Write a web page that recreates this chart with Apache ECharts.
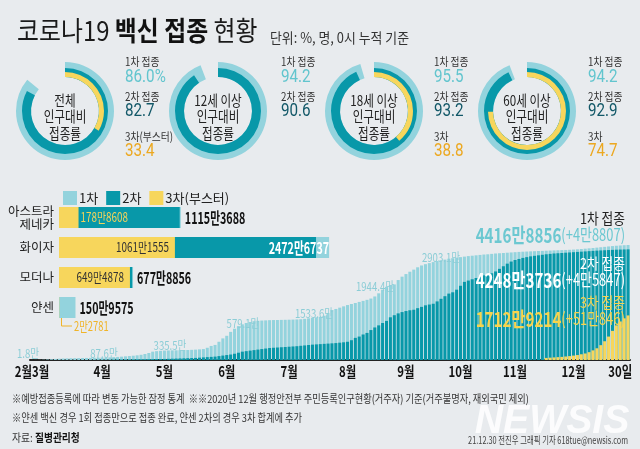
<!DOCTYPE html>
<html><head><meta charset="utf-8">
<script src="https://cdn.jsdelivr.net/npm/echarts/dist/echarts.min.js"></script>
<style>html,body{margin:0;padding:0;background:#e8ebee;}#c{width:640px;height:449px;}</style>
</head><body><div id="c"></div>
<script>
// ---------- data ----------
const donutNames = ['전체\n인구대비\n접종률', '12세 이상\n인구대비\n접종률', '18세 이상\n인구대비\n접종률', '60세 이상\n인구대비\n접종률'];
const dose1Rate = [86.0, 94.2, 95.5, 94.2];
const dose2Rate = [82.7, 90.6, 93.2, 92.9];
const dose3Rate = [33.4, null, 38.8, 74.7];
const dose1RateText = ['86.0%', '94.2', '95.5', '94.2'];
const dose2RateText = ['82.7', '90.6', '93.2', '92.9'];
const dose3RateText = ['33.4', null, '38.8', '74.7'];
const dose1Caption = ['1차 접종', '1차 접종', '1차 접종', '1차 접종'];
const dose2Caption = ['2차 접종', '2차 접종', '2차 접종', '2차 접종'];
const dose3Caption = ['3차(부스터)', null, '3차', '3차'];

const legendNames = ['1차', '2차', '3차(부스터)'];
const vaccineNames = ['아스트라\n제네카', '화이자', '모더나', '얀센'];
const vaccineDose1 = [11153688, 24726737, 6778856, 1509575];
const vaccineDose2 = [11050000, 23530000, 6700000, 0];
const vaccineDose3 = [1788608, 10611555, 6494878, 22781];

const days = ['2/27',
'3/1','3/3','3/5','3/7','3/9','3/11','3/13','3/15','3/17','3/19','3/21','3/23','3/25','3/27','3/29','3/31',
'4/2','4/4','4/6','4/8','4/10','4/12','4/14','4/16','4/18','4/20','4/22','4/24','4/26','4/28','4/30',
'5/2','5/4','5/6','5/8','5/10','5/12','5/14','5/16','5/18','5/20','5/22','5/24','5/26','5/28','5/30',
'6/1','6/3','6/5','6/7','6/9','6/11','6/13','6/15','6/17','6/19','6/21','6/23','6/25','6/27','6/29',
'7/1','7/3','7/5','7/7','7/9','7/11','7/13','7/15','7/17','7/19','7/21','7/23','7/25','7/27','7/29','7/31',
'8/2','8/4','8/6','8/8','8/10','8/12','8/14','8/16','8/18','8/20','8/22','8/24','8/26','8/28','8/30',
'9/1','9/3','9/5','9/7','9/9','9/11','9/13','9/15','9/17','9/19','9/21','9/23','9/25','9/27','9/29',
'10/1','10/3','10/5','10/7','10/9','10/11','10/13','10/15','10/17','10/19','10/21','10/23','10/25','10/27','10/29','10/31',
'11/2','11/4','11/6','11/8','11/10','11/12','11/14','11/16','11/18','11/20','11/22','11/24','11/26','11/28','11/30',
'12/2','12/4','12/6','12/8','12/10','12/12','12/14','12/16','12/18','12/20','12/22','12/24','12/26','12/28','12/30'];
// cumulative doses (만 명)
const cumDose1 = [2,
3,5,10,20,30,42,50,57,62,66,70,73,76,79,82,86,
89,93,97,102,110,118,128,140,152,165,180,200,230,270,320,
340,352,362,367,370,372,375,380,385,390,398,408,420,470,540,
579,700,830,930,1080,1200,1300,1370,1420,1460,1490,1505,1515,1522,1530,
1534,1537,1540,1543,1547,1552,1558,1565,1580,1600,1620,1640,1660,1700,1800,1920,
1960,2010,2060,2110,2150,2190,2230,2270,2310,2360,2440,2560,2700,2810,2880,
2903,3070,3200,3300,3390,3470,3560,3630,3680,3720,3760,3800,3830,3855,3890,
3910,3930,3950,3970,3990,4005,4020,4035,4050,4060,4075,4090,4100,4110,4120,4130,
4140,4150,4158,4165,4172,4178,4185,4190,4196,4202,4208,4214,4220,4226,4232,
4240,4250,4262,4275,4288,4300,4315,4330,4345,4360,4375,4388,4398,4408,4417];
const cumDose2 = [0,
0,0,0,0,0,0,0,0,0,0,0,1,2,3,4,5,
6,8,10,12,14,16,18,20,22,24,26,28,30,32,34,
36,38,40,45,50,55,60,65,70,75,80,90,100,110,120,
130,150,170,190,210,240,280,320,340,360,380,400,420,440,460,
470,480,490,500,510,520,530,545,560,575,590,600,610,620,630,640,
650,665,680,700,760,850,900,980,1040,1150,1250,1330,1420,1500,1640,
1720,1790,1840,1880,1910,1930,1990,2040,2100,2130,2160,2250,2350,2450,2550,
2600,2700,2850,3000,3050,3100,3150,3200,3250,3290,3330,3400,3500,3600,3700,3780,
3840,3880,3920,3950,3980,4000,4020,4040,4060,4075,4090,4100,4110,4120,4130,
4140,4150,4160,4170,4180,4190,4200,4208,4215,4222,4229,4235,4240,4244,4248];
const boosterDays = ['11/18','11/20','11/22','11/24','11/26','11/28','11/30',
'12/2','12/4','12/6','12/8','12/10','12/12','12/14','12/16','12/18','12/20','12/22','12/24','12/26','12/28','12/30'];
const cumDose3 = [80,90,100,110,120,135,150,
170,190,220,250,300,370,450,570,720,900,1120,1330,1480,1600,1712];

const tickIndex = [0, 18, 34, 50, 66, 81, 96, 110, 124, 139, 151];
const tickText = ['2월3월', '4월', '5월', '6월', '7월', '8월', '9월', '10월', '11월', '12월', '30일'];
const monthStartText = ['1.8만', '87.6만', '335.5만', '579.1만', '1533.6만', '1944.4만', '2903.1만'];
const totalText = ['4416만8856', '4248만3736', '1712만9214'];
const dailyText = ['(+4만8807)', '(+4만5847)', '(+51만846)'];
const totalCaption = ['1차 접종', '2차 접종', '3차 접종'];

// ---------- style / layout ----------
const C1 = '#93d3dd', C2 = '#0898a9', C3 = '#f7d65c';
const FK = "'Noto Sans CJK KR','Noto Sans',sans-serif";
const donutCX = [65, 218, 374, 527], donutCY = 111;
const capX = [125, 281, 434, 588];
const monthLabelPos = [[28, 353], [104, 353], [170, 345], [243, 323], [314, 313], [375, 286], [441, 257]];

function fmtMan(v) { return Math.floor(v / 10000) + '만' + (v % 10000); }

function T(x, y, text, o) {
  o = o || {};
  const st = {
    text: text, fill: o.color || '#222',
    font: (o.italic ? 'italic ' : '') + (o.weight || 'normal') + ' ' + (o.size || 12) + 'px ' + (o.family || FK),
    textAlign: o.align || 'left', textVerticalAlign: o.valign || 'middle'
  };
  if (o.lh) st.lineHeight = o.lh;
  if (o.rich) st.rich = o.rich;
  return { type: 'text', x: x, y: y, scaleX: o.sx == null ? 0.82 : o.sx, z: o.z || 100, silent: true, style: st };
}

const chart = echarts.init(document.getElementById('c'), null, { renderer: 'canvas' });

const series = [];
function ring(i, val, r0, r1, color) {
  return {
    type: 'pie', center: [donutCX[i], donutCY], radius: [r0, r1], startAngle: 90, clockwise: true,
    silent: true, animation: false, label: { show: false }, labelLine: { show: false },
    itemStyle: { borderWidth: 0 }, emphasis: { disabled: true },
    data: [{ value: val, itemStyle: { color: color } }, { value: 100 - val, itemStyle: { color: 'rgba(0,0,0,0)' } }]
  };
}
for (let i = 0; i < 4; i++) {
  series.push(ring(i, dose1Rate[i], 34, 49, C1));
  series.push(ring(i, dose2Rate[i], 34, 43, C2));
  if (dose3Rate[i] != null) series.push(ring(i, dose3Rate[i], 34, 39, C3));
}
const vb = { type: 'bar', xAxisIndex: 0, yAxisIndex: 0, barWidth: 21, barGap: '-100%', silent: true };
series.push(Object.assign({ name: legendNames[0], z: 5, itemStyle: { color: C1 }, data: vaccineDose1 }, vb));
series.push(Object.assign({ name: legendNames[1], z: 6, itemStyle: { color: C2 }, data: vaccineDose2 }, vb));
series.push(Object.assign({ name: legendNames[2], z: 7, itemStyle: { color: C3 }, data: vaccineDose3 }, vb));
const tsCommon = { type: 'bar', xAxisIndex: 1, yAxisIndex: 1, barCategoryGap: '22%', barGap: '-100%', silent: true, z: 2 };
series.push(Object.assign({ name: '1차 누적', itemStyle: { color: C1 }, data: cumDose1 }, tsCommon));
series.push(Object.assign({ name: '2차 누적', itemStyle: { color: C2 }, data: cumDose2 }, tsCommon));
series.push(Object.assign({ name: '3차 누적', itemStyle: { color: C3 }, data: boosterDays.map((d, i) => [d, cumDose3[i]]) }, tsCommon));

chart.setOption({
  backgroundColor: '#e8ebee',
  animation: false,
  legend: {
    left: 58, top: 186, itemWidth: 14, itemHeight: 14, itemGap: 8, icon: 'rect', selectedMode: false,
    data: legendNames, textStyle: { fontSize: 13, fontFamily: FK, color: '#222', padding: [0, 0, 0, -3] }
  },
  grid: [
    { left: 59, top: 202.5, width: 284, height: 120 },
    { left: 30, top: 240, width: 600, height: 120 }
  ],
  xAxis: [
    { type: 'value', gridIndex: 0, min: 0, max: 26000000, show: false },
    {
      type: 'category', gridIndex: 1, data: days, boundaryGap: true,
      axisLine: { lineStyle: { color: '#222', width: 2 } }, axisTick: { show: false },
      axisLabel: { show: false }
    }
  ],
  yAxis: [
    {
      type: 'category', gridIndex: 0, data: vaccineNames, inverse: true,
      axisLine: { show: false }, axisTick: { show: false },
      axisLabel: { fontSize: 12.5, lineHeight: 13, color: '#222', margin: 5, fontFamily: FK }
    },
    { type: 'value', gridIndex: 1, min: 0, max: 4608, show: false }
  ],
  series: series
});

// ---------- text & annotations ----------
const g = [];
g.push(T(17, 31, '{a|코로나19 }{b|백신 접종}{a| 현황}', {
  sx: 0.885, rich: {
    a: { fontSize: 27, fontFamily: FK, fill: '#1a1a1a' },
    b: { fontSize: 27, fontFamily: FK, fontWeight: 'bold', fill: '#111' }
  }
}));
g.push(T(270, 38, '단위: %, 명, 0시 누적 기준', { size: 14, sx: 0.92, color: '#333' }));
for (let i = 0; i < 4; i++) {
  g.push(T(donutCX[i], 116.5, donutNames[i], { size: 14.5, lh: 16.5, align: 'center', sx: 0.8, color: '#222' }));
  g.push(T(capX[i], 61.5, dose1Caption[i], { size: 11.5, sx: 0.85, color: '#333' }));
  g.push(T(capX[i], 77, dose1RateText[i], { size: 19, sx: 0.8, color: '#62c5ce', family: "Roboto,sans-serif" }));
  g.push(T(capX[i], 97, dose2Caption[i], { size: 11.5, sx: 0.85, color: '#333' }));
  g.push(T(capX[i], 111.5, dose2RateText[i], { size: 19, sx: 0.8, color: '#125868', family: "Roboto,sans-serif" }));
  if (dose3Caption[i]) {
    g.push(T(capX[i], 137, dose3Caption[i], { size: 11.5, sx: 0.85, color: '#333' }));
    g.push(T(capX[i], 151.5, dose3RateText[i], { size: 19, sx: 0.8, color: '#eca820', family: "Roboto,sans-serif" }));
  }
}
// vaccine bar labels, placed through the bar axes
const vp = (v, i) => chart.convertToPixel({ xAxisIndex: 0, yAxisIndex: 0 }, [v, vaccineNames[i]]);
const d1Lab = [
  { dx: 4, align: 'left', color: '#111' }, { dx: 0, align: 'right', color: '#fff' },
  { dx: 4, align: 'left', color: '#111' }, { dx: 4, align: 'left', color: '#111' }];
vaccineDose1.forEach((v, i) => {
  const p = vp(v, i);
  g.push(T(p[0] + d1Lab[i].dx, p[1] + 0.5, fmtMan(v), { size: 16, weight: 'bold', sx: 0.67, align: d1Lab[i].align, color: d1Lab[i].color }));
});
const d3Lab = [
  { dx: 2, align: 'left', color: '#f3d35a' }, { dx: -6, align: 'right', color: '#333' },
  { dx: -6, align: 'right', color: '#333' }, null];
vaccineDose3.forEach((v, i) => {
  if (!d3Lab[i]) return;
  const p = vp(v, i);
  g.push(T(p[0] + d3Lab[i].dx, p[1], fmtMan(v), { size: 13, sx: 0.76, align: d3Lab[i].align, color: d3Lab[i].color }));
});
// Janssen callout
const jp = vp(0, 3);
const jb = jp[1] + 10.5;
g.push({ type: 'polyline', silent: true, z: 100, shape: { points: [[jp[0] + 2.5, jb], [jp[0] + 2.5, jb + 8], [jp[0] + 13, jb + 8]] }, style: { stroke: '#f0b429', lineWidth: 1, fill: null } });
g.push(T(jp[0] + 15, jb + 8, fmtMan(vaccineDose3[3]), { size: 13, sx: 0.72, color: '#f0b429' }));
// time axis labels
tickIndex.forEach((k, i) => {
  const p = chart.convertToPixel({ xAxisIndex: 1, yAxisIndex: 1 }, [days[k], 0]);
  g.push(T(p[0], p[1] + 11, tickText[i], { size: 15, weight: 'bold', sx: 0.76, align: 'center', color: '#111' }));
});
monthStartText.forEach((t, i) => g.push(T(monthLabelPos[i][0], monthLabelPos[i][1], t, { size: 12, sx: 0.8, align: 'center', color: '#8ccdd6' })));
const annColor = ['#6cc8d1', '#ffffff', '#f8d44c'];
const capColor = ['#222', '#ffffff', '#f8d44c'];
const annY = [218, 263, 302];
for (let i = 0; i < 3; i++) {
  g.push(T(625, annY[i], totalCaption[i], { size: 15, align: 'right', sx: 0.85, color: capColor[i] }));
  g.push(T(625, annY[i] + 17, '{a|' + totalText[i] + '}{b|' + dailyText[i] + '}', {
    align: 'right', sx: 0.76, rich: {
      a: { fontSize: 20, fontWeight: 'bold', fontFamily: FK, fill: annColor[i] },
      b: { fontSize: 17, fontFamily: FK, fill: annColor[i] }
    }
  }));
}
// footnotes
g.push(T(12, 398.5, '※예방접종등록에 따라 변동 가능한 잠정 통계  ※※2020년 12월 행정안전부 주민등록인구현황(거주자) 기준(거주불명자, 재외국민 제외)', { size: 11, sx: 0.84, color: '#333' }));
g.push(T(12, 418, '※얀센 백신 경우 1회 접종만으로 접종 완료, 얀센 2차의 경우 3차 합계에 추가', { size: 11, sx: 0.84, color: '#333' }));
g.push(T(12, 438, '{a|자료: }{b|질병관리청}', { sx: 0.85, rich: { a: { fontSize: 11.5, fontFamily: FK, fill: '#333' }, b: { fontSize: 11.5, fontFamily: FK, fontWeight: 'bold', fill: '#111' } } }));
g.push(T(552, 422, 'NEWSIS', { size: 40, weight: 'bold', italic: true, align: 'center', sx: 0.98, color: 'rgba(255,255,255,0.85)', family: "'Liberation Sans',sans-serif", z: 90 }));
g.push(T(628, 440, '21.12.30 전진우 그래픽 기자 618tue@newsis.com', { size: 10.5, align: 'right', sx: 0.7, color: '#444' }));

chart.setOption({ graphic: { elements: g } });
</script></body></html>
